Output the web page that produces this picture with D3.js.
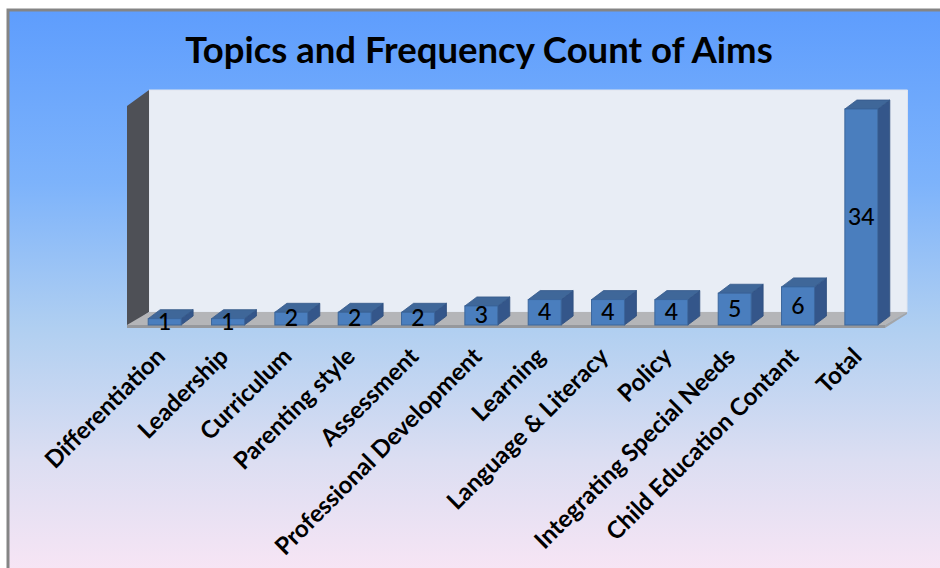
<!DOCTYPE html>
<html><head><meta charset="utf-8">
<script src="https://cdn.jsdelivr.net/npm/d3@7/dist/d3.min.js"></script>
<style>html,body{margin:0;padding:0;background:#fff;}svg{display:block;}</style>
</head><body>
<script>
const title = "Topics and Frequency Count of Aims";
const categories = ["Differentiation","Leadership","Curriculum","Parenting style","Assessment","Professional Development","Learning","Language & Literacy","Policy","Integrating Special Needs","Child Education Contant","Total"];
const values = [1,1,2,2,2,3,4,4,4,5,6,34];

const W = 940, H = 568;
const svg = d3.select("body").append("svg").attr("width", W).attr("height", H);
const defs = svg.append("defs");
const bg = defs.append("linearGradient").attr("id","bg").attr("x1",0).attr("y1",0).attr("x2",0).attr("y2",1);
[[0,"#5e9dfd"],[0.3,"#7db3fb"],[0.55,"#b0cff1"],[0.78,"#dcdef2"],[1,"#fbe6f5"]].forEach(s=>bg.append("stop").attr("offset",s[0]).attr("stop-color",s[1]));

// frame
svg.append("rect").attr("x",8).attr("y",10).attr("width",W+10).attr("height",H+10)
  .attr("fill","url(#bg)").attr("stroke","#858585").attr("stroke-width",3);

// scales
const x = d3.scaleBand().domain(categories).range([133, 893]).paddingInner(0.48).paddingOuter(0.24);
const y = d3.scaleLinear().domain([0, 34]).range([325, 109]);

// 3D walls
const fx0 = 127, fx1 = 885, fy = 328, ddx = 22, ddy = -16, wallTop = 106;
svg.append("polygon").attr("points", [[fx0+ddx, wallTop+ddy],[fx1+ddx+0.5, wallTop+ddy],[fx1+ddx, fy+ddy],[fx0+ddx, fy+ddy]].join(" "))
  .attr("fill","#e8edf5").attr("stroke","#dfe4ee").attr("stroke-width",1);
svg.append("polygon").attr("points", [[fx0, wallTop],[fx0+ddx, wallTop+ddy],[fx0+ddx, fy+ddy],[fx0, fy]].join(" "))
  .attr("fill","#4e5056");
svg.append("polygon").attr("points", [[fx0, fy-3],[fx0+ddx, fy+ddy],[fx1+ddx, fy+ddy],[fx1, fy-3]].join(" "))
  .attr("fill","#b4b5b8");
svg.append("rect").attr("x",fx0).attr("y",fy-3).attr("width",fx1-fx0).attr("height",3).attr("fill","#96989c");
svg.append("polygon").attr("points", [[fx1, fy-3],[fx1+ddx, fy+ddy],[fx1+ddx, fy+ddy+2],[fx1, fy]].join(" ")).attr("fill","#a3a5a8");

// bars
const bdx = 12, bdy = -9;
const bw = x.bandwidth();
const g = svg.append("g");
const data = categories.map((c,i)=>({c, v: values[i]}));
const bars = g.selectAll("g.bar").data(data).join("g").attr("class","bar");
bars.append("polygon").attr("points", d => {
  const x0 = x(d.c), yt = y(d.v), yb = y(0);
  return [[x0+bw, yt],[x0+bw+bdx, yt+bdy],[x0+bw+bdx, yb+bdy],[x0+bw, yb]].join(" ");
}).attr("fill","#34568a").attr("stroke","#2f4f7e").attr("stroke-width",0.8);
bars.append("polygon").attr("points", d => {
  const x0 = x(d.c), yt = y(d.v);
  return [[x0, yt],[x0+bdx, yt+bdy],[x0+bw+bdx, yt+bdy],[x0+bw, yt]].join(" ");
}).attr("fill","#3f6799").attr("stroke","#35598a").attr("stroke-width",0.8);
bars.append("rect").attr("x", d => x(d.c)).attr("y", d => y(d.v))
  .attr("width", bw).attr("height", d => y(0) - y(d.v))
  .attr("fill","#4a7ebe").attr("stroke","#3b669c").attr("stroke-width",1);

// value labels
g.selectAll("text.val").data(data).join("text")
  .attr("class","val")
  .attr("x", d => x(d.c) + bw/2)
  .attr("y", d => (y(d.v) + y(0))/2 + 2)
  .attr("text-anchor","middle").attr("dominant-baseline","middle")
  .attr("font-family","Lato, 'Open Sans', sans-serif").attr("font-size",23).attr("font-weight",500)
  .attr("fill","#000").text(d => d.v);

// category labels
const xAxis = d3.axisBottom(x).tickSize(0).tickPadding(0);
const ax = svg.append("g").attr("transform","translate(0,352)").call(xAxis);
ax.select(".domain").remove();
ax.attr("font-size",null).attr("font-family",null);
ax.selectAll(".tick text")
  .style("font-family","Lato, 'Open Sans', sans-serif").style("font-size","24px").style("font-weight","700")
  .attr("fill","#000")
  .attr("text-anchor","end")
  .attr("dy",null).attr("y",0)
  .attr("transform","translate(2,6) rotate(-45)");

// title
svg.append("text").attr("x",479).attr("y",63).attr("text-anchor","middle")
  .attr("font-family","Lato, 'Open Sans', sans-serif").attr("font-size",36.5).attr("font-weight",700)
  .attr("fill","#000").text(title);
</script>
</body></html>
